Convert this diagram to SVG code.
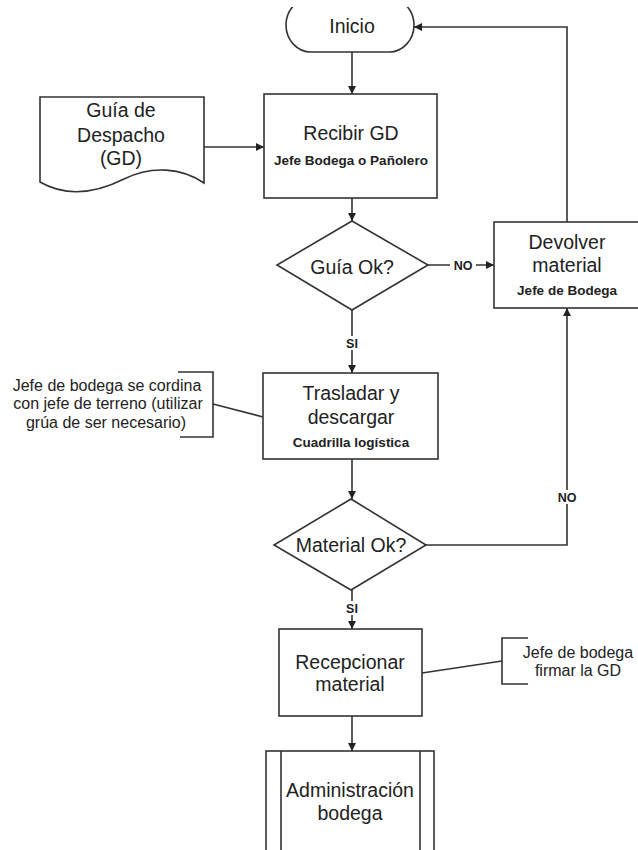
<svg xmlns="http://www.w3.org/2000/svg" width="638" height="850" viewBox="0 0 638 850">
  <style>
    .shape { fill: #ffffff; stroke: #333333; stroke-width: 1.6; }
    .line { fill: none; stroke: #333333; stroke-width: 1.6; }
    .arrow { marker-end: url(#head); }
    text { font-family: "Liberation Sans", Arial, sans-serif; fill: #222222; text-anchor: middle; }
    .main { font-size: 19.5px; }
    .role { font-size: 13.5px; font-weight: bold; }
    .note { font-size: 16px; }
    .lbl { font-size: 12.5px; font-weight: bold; }
    .bg { fill: #ffffff; stroke: none; }
  </style>
  <defs>
    <marker id="head" viewBox="0 0 10 10" refX="10" refY="5" markerWidth="8" markerHeight="8" markerUnits="userSpaceOnUse" orient="auto">
      <path d="M0,0 L10,5 L0,10 Z" fill="#222222"/>
    </marker>
    <clipPath id="topcut">
      <rect x="0" y="7" width="638" height="843"/>
    </clipPath>
  </defs>

  <rect width="638" height="850" fill="#ffffff"/>

  <!-- connectors -->
  <g id="connectors">
    <path class="line arrow" d="M352,52 V94"/>
    <path class="line arrow" d="M204,147 H264"/>
    <path class="line arrow" d="M352,198 V221"/>
    <path class="line arrow" d="M428,265 H494"/>
    <path class="line arrow" d="M352,310 V373"/>
    <path class="line arrow" d="M567,222 V27 H414"/>
    <path class="line arrow" d="M352,459 V499"/>
    <path class="line arrow" d="M426,545 H567 V308"/>
    <path class="line arrow" d="M352,590 V629"/>
    <path class="line arrow" d="M352,716 V751"/>
    <!-- annotation leaders -->
    <path class="line" d="M213,404 L263,417"/>
    <path class="line" d="M422,673 L502,661"/>
    <!-- branch labels -->
    <rect class="bg" x="450" y="259" width="26" height="12"/>
    <text class="lbl" x="463" y="269.5">NO</text>
    <rect class="bg" x="343" y="336" width="18" height="14"/>
    <text class="lbl" x="352" y="347.5">SI</text>
    <rect class="bg" x="555" y="490" width="24" height="14"/>
    <text class="lbl" x="567" y="501.5">NO</text>
    <rect class="bg" x="343" y="601" width="18" height="14"/>
    <text class="lbl" x="352" y="612.5">SI</text>
  </g>

  <g id="inicio">
    <rect class="shape" x="286" y="-2" width="128" height="54" rx="25" ry="27" clip-path="url(#topcut)"/>
    <text class="main" x="352" y="33">Inicio</text>
  </g>

  <g id="guia-despacho">
    <path class="shape" d="M40,97 H204 V183 C182,168 152,165 124,179 C96,193 66,197 40,182 Z"/>
    <text class="main" x="121" y="117">Guía de</text>
    <text class="main" x="121" y="142">Despacho</text>
    <text class="main" x="121" y="165">(GD)</text>
  </g>

  <g id="recibir-gd">
    <rect class="shape" x="264" y="94" width="173" height="104"/>
    <text class="main" x="351" y="140">Recibir GD</text>
    <text class="role" x="351" y="164.7">Jefe Bodega o Pañolero</text>
  </g>

  <g id="guia-ok">
    <polygon class="shape" points="352,221 428,265 352,310 277,265"/>
    <text class="main" x="352" y="274">Guía Ok?</text>
  </g>

  <g id="devolver-material">
    <rect class="shape" x="494" y="222" width="150" height="86"/>
    <text class="main" x="567" y="249">Devolver</text>
    <text class="main" x="567" y="272">material</text>
    <text class="role" x="567" y="294.7">Jefe de Bodega</text>
  </g>

  <g id="trasladar-descargar">
    <rect class="shape" x="263" y="373" width="175" height="86"/>
    <text class="main" x="351" y="400">Trasladar y</text>
    <text class="main" x="351" y="424">descargar</text>
    <text class="role" x="351" y="446.7">Cuadrilla logística</text>
  </g>

  <g id="nota-traslado">
    <path class="line" d="M178,372 H213 V437 H180"/>
    <text class="note" x="107" y="390.5">Jefe de bodega se cordina</text>
    <text class="note" x="108" y="409">con jefe de terreno (utilizar</text>
    <text class="note" x="106" y="427.5">grúa de ser necesario)</text>
  </g>

  <g id="material-ok">
    <polygon class="shape" points="351,499 426,545 351,590 274,545"/>
    <text class="main" x="351" y="552">Material Ok?</text>
  </g>

  <g id="recepcionar-material">
    <rect class="shape" x="279" y="629" width="143" height="87"/>
    <text class="main" x="350" y="669">Recepcionar</text>
    <text class="main" x="350" y="691">material</text>
  </g>

  <g id="nota-recepcion">
    <path class="line" d="M528,638 H502 V684 H528"/>
    <text class="note" x="578" y="657.5">Jefe de bodega</text>
    <text class="note" x="578" y="675.5">firmar la GD</text>
  </g>

  <g id="administracion-bodega">
    <rect class="shape" x="266" y="751" width="168" height="110"/>
    <path class="line" d="M281,751 V861 M420,751 V861"/>
    <text class="main" x="350" y="797">Administración</text>
    <text class="main" x="350" y="820">bodega</text>
  </g>
</svg>
